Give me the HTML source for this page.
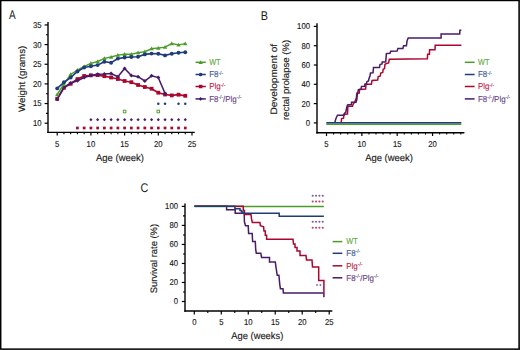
<!DOCTYPE html>
<html><head><meta charset="utf-8"><style>
html,body{margin:0;padding:0;background:#fff;}
#f{position:absolute;left:0;top:0;width:520px;height:350px;background:#fff;}
svg{position:absolute;left:0;top:0;}
text{font-family:"Liberation Sans",sans-serif;text-rendering:geometricPrecision;stroke-width:0.14px;paint-order:stroke;}
</style></head><body>
<div id="f"></div>
<svg width="520" height="350" viewBox="0 0 520 350" shape-rendering="auto">
<text transform="translate(8.9,18.6) scale(0.79,1)" font-size="12.6" fill="#1a1a1a" stroke="none">A</text>
<line x1="48.00" y1="22.00" x2="48.00" y2="133.00" stroke="#000" stroke-width="1.4"/>
<line x1="47.30" y1="132.45" x2="194.80" y2="132.45" stroke="#000" stroke-width="1.3"/>
<line x1="44.60" y1="123.20" x2="48.00" y2="123.20" stroke="#000" stroke-width="1.2"/>
<text x="41.60" y="126.10" font-size="8.5" text-anchor="end" fill="#1a1a1a" stroke="#1a1a1a" textLength="8.60" lengthAdjust="spacingAndGlyphs">10</text>
<line x1="44.60" y1="103.55" x2="48.00" y2="103.55" stroke="#000" stroke-width="1.2"/>
<text x="41.60" y="106.45" font-size="8.5" text-anchor="end" fill="#1a1a1a" stroke="#1a1a1a" textLength="8.60" lengthAdjust="spacingAndGlyphs">15</text>
<line x1="44.60" y1="83.90" x2="48.00" y2="83.90" stroke="#000" stroke-width="1.2"/>
<text x="41.60" y="86.80" font-size="8.5" text-anchor="end" fill="#1a1a1a" stroke="#1a1a1a" textLength="8.60" lengthAdjust="spacingAndGlyphs">20</text>
<line x1="44.60" y1="64.25" x2="48.00" y2="64.25" stroke="#000" stroke-width="1.2"/>
<text x="41.60" y="67.15" font-size="8.5" text-anchor="end" fill="#1a1a1a" stroke="#1a1a1a" textLength="8.60" lengthAdjust="spacingAndGlyphs">25</text>
<line x1="44.60" y1="44.60" x2="48.00" y2="44.60" stroke="#000" stroke-width="1.2"/>
<text x="41.60" y="47.50" font-size="8.5" text-anchor="end" fill="#1a1a1a" stroke="#1a1a1a" textLength="8.60" lengthAdjust="spacingAndGlyphs">30</text>
<line x1="44.60" y1="24.95" x2="48.00" y2="24.95" stroke="#000" stroke-width="1.2"/>
<text x="41.60" y="27.85" font-size="8.5" text-anchor="end" fill="#1a1a1a" stroke="#1a1a1a" textLength="8.60" lengthAdjust="spacingAndGlyphs">35</text>
<line x1="46.00" y1="113.38" x2="48.00" y2="113.38" stroke="#000" stroke-width="1.1"/>
<line x1="46.00" y1="93.72" x2="48.00" y2="93.72" stroke="#000" stroke-width="1.1"/>
<line x1="46.00" y1="74.08" x2="48.00" y2="74.08" stroke="#000" stroke-width="1.1"/>
<line x1="46.00" y1="54.42" x2="48.00" y2="54.42" stroke="#000" stroke-width="1.1"/>
<line x1="46.00" y1="34.78" x2="48.00" y2="34.78" stroke="#000" stroke-width="1.1"/>
<line x1="57.20" y1="132.00" x2="57.20" y2="135.60" stroke="#000" stroke-width="1.2"/>
<text x="57.20" y="146.60" font-size="8.5" text-anchor="middle" fill="#1a1a1a" stroke="#1a1a1a" textLength="4.30" lengthAdjust="spacingAndGlyphs">5</text>
<line x1="63.94" y1="132.00" x2="63.94" y2="134.20" stroke="#000" stroke-width="1.1"/>
<line x1="70.68" y1="132.00" x2="70.68" y2="134.20" stroke="#000" stroke-width="1.1"/>
<line x1="77.42" y1="132.00" x2="77.42" y2="134.20" stroke="#000" stroke-width="1.1"/>
<line x1="84.16" y1="132.00" x2="84.16" y2="134.20" stroke="#000" stroke-width="1.1"/>
<line x1="90.90" y1="132.00" x2="90.90" y2="135.60" stroke="#000" stroke-width="1.2"/>
<text x="90.90" y="146.60" font-size="8.5" text-anchor="middle" fill="#1a1a1a" stroke="#1a1a1a" textLength="8.60" lengthAdjust="spacingAndGlyphs">10</text>
<line x1="97.64" y1="132.00" x2="97.64" y2="134.20" stroke="#000" stroke-width="1.1"/>
<line x1="104.38" y1="132.00" x2="104.38" y2="134.20" stroke="#000" stroke-width="1.1"/>
<line x1="111.12" y1="132.00" x2="111.12" y2="134.20" stroke="#000" stroke-width="1.1"/>
<line x1="117.86" y1="132.00" x2="117.86" y2="134.20" stroke="#000" stroke-width="1.1"/>
<line x1="124.60" y1="132.00" x2="124.60" y2="135.60" stroke="#000" stroke-width="1.2"/>
<text x="124.60" y="146.60" font-size="8.5" text-anchor="middle" fill="#1a1a1a" stroke="#1a1a1a" textLength="8.60" lengthAdjust="spacingAndGlyphs">15</text>
<line x1="131.34" y1="132.00" x2="131.34" y2="134.20" stroke="#000" stroke-width="1.1"/>
<line x1="138.08" y1="132.00" x2="138.08" y2="134.20" stroke="#000" stroke-width="1.1"/>
<line x1="144.82" y1="132.00" x2="144.82" y2="134.20" stroke="#000" stroke-width="1.1"/>
<line x1="151.56" y1="132.00" x2="151.56" y2="134.20" stroke="#000" stroke-width="1.1"/>
<line x1="158.30" y1="132.00" x2="158.30" y2="135.60" stroke="#000" stroke-width="1.2"/>
<text x="158.30" y="146.60" font-size="8.5" text-anchor="middle" fill="#1a1a1a" stroke="#1a1a1a" textLength="8.60" lengthAdjust="spacingAndGlyphs">20</text>
<line x1="165.04" y1="132.00" x2="165.04" y2="134.20" stroke="#000" stroke-width="1.1"/>
<line x1="171.78" y1="132.00" x2="171.78" y2="134.20" stroke="#000" stroke-width="1.1"/>
<line x1="178.52" y1="132.00" x2="178.52" y2="134.20" stroke="#000" stroke-width="1.1"/>
<line x1="185.26" y1="132.00" x2="185.26" y2="134.20" stroke="#000" stroke-width="1.1"/>
<line x1="192.00" y1="132.00" x2="192.00" y2="135.60" stroke="#000" stroke-width="1.2"/>
<text x="192.00" y="146.60" font-size="8.5" text-anchor="middle" fill="#1a1a1a" stroke="#1a1a1a" textLength="8.60" lengthAdjust="spacingAndGlyphs">25</text>
<text x="96.00" y="160.60" font-size="9.8" text-anchor="start" fill="#1a1a1a" stroke="#1a1a1a" textLength="48.0" lengthAdjust="spacingAndGlyphs">Age (week)</text>
<text transform="translate(24.6,112) rotate(-90)" font-size="9.4" fill="#1a1a1a" stroke="#1a1a1a" textLength="66.3" lengthAdjust="spacingAndGlyphs">Weight (grams)</text>
<polyline points="57.20,99.00 63.94,87.80 70.68,83.80 77.42,79.10 84.16,76.00 90.90,75.30 97.64,75.10 104.38,76.20 111.12,77.50 117.86,79.00 124.60,81.00 131.34,82.20 138.08,85.00 144.82,87.00 151.56,88.70 158.30,92.70 165.04,94.50 171.78,95.40 178.52,94.70 185.26,95.80" fill="none" stroke="#aa072e" stroke-width="1.7" stroke-linejoin="miter" stroke-linecap="butt"/>
<rect x="55.30" y="97.10" width="3.80" height="3.80" fill="#aa072e"/>
<rect x="62.04" y="85.90" width="3.80" height="3.80" fill="#aa072e"/>
<rect x="68.78" y="81.90" width="3.80" height="3.80" fill="#aa072e"/>
<rect x="75.52" y="77.20" width="3.80" height="3.80" fill="#aa072e"/>
<rect x="82.26" y="74.10" width="3.80" height="3.80" fill="#aa072e"/>
<rect x="89.00" y="73.40" width="3.80" height="3.80" fill="#aa072e"/>
<rect x="95.74" y="73.20" width="3.80" height="3.80" fill="#aa072e"/>
<rect x="102.48" y="74.30" width="3.80" height="3.80" fill="#aa072e"/>
<rect x="109.22" y="75.60" width="3.80" height="3.80" fill="#aa072e"/>
<rect x="115.96" y="77.10" width="3.80" height="3.80" fill="#aa072e"/>
<rect x="122.70" y="79.10" width="3.80" height="3.80" fill="#aa072e"/>
<rect x="129.44" y="80.30" width="3.80" height="3.80" fill="#aa072e"/>
<rect x="136.18" y="83.10" width="3.80" height="3.80" fill="#aa072e"/>
<rect x="142.92" y="85.10" width="3.80" height="3.80" fill="#aa072e"/>
<rect x="149.66" y="86.80" width="3.80" height="3.80" fill="#aa072e"/>
<rect x="156.40" y="90.80" width="3.80" height="3.80" fill="#aa072e"/>
<rect x="163.14" y="92.60" width="3.80" height="3.80" fill="#aa072e"/>
<rect x="169.88" y="93.50" width="3.80" height="3.80" fill="#aa072e"/>
<rect x="176.62" y="92.80" width="3.80" height="3.80" fill="#aa072e"/>
<rect x="183.36" y="93.90" width="3.80" height="3.80" fill="#aa072e"/>
<polyline points="57.20,99.00 63.94,87.40 70.68,83.00 77.42,80.70 84.16,77.50 90.90,75.50 97.64,74.20 104.38,74.00 111.12,73.50 117.86,76.70 124.60,68.50 131.34,75.60 138.08,76.70 144.82,81.00 151.56,75.80 158.30,77.60 165.04,93.40" fill="none" stroke="#481b69" stroke-width="1.5" stroke-linejoin="miter" stroke-linecap="butt"/>
<path d="M57.20,97.00 L59.20,99.00 L57.20,101.00 L55.20,99.00Z" fill="#481b69"/>
<path d="M63.94,85.40 L65.94,87.40 L63.94,89.40 L61.94,87.40Z" fill="#481b69"/>
<path d="M70.68,81.00 L72.68,83.00 L70.68,85.00 L68.68,83.00Z" fill="#481b69"/>
<path d="M77.42,78.70 L79.42,80.70 L77.42,82.70 L75.42,80.70Z" fill="#481b69"/>
<path d="M84.16,75.50 L86.16,77.50 L84.16,79.50 L82.16,77.50Z" fill="#481b69"/>
<path d="M90.90,73.50 L92.90,75.50 L90.90,77.50 L88.90,75.50Z" fill="#481b69"/>
<path d="M97.64,72.20 L99.64,74.20 L97.64,76.20 L95.64,74.20Z" fill="#481b69"/>
<path d="M104.38,72.00 L106.38,74.00 L104.38,76.00 L102.38,74.00Z" fill="#481b69"/>
<path d="M111.12,71.50 L113.12,73.50 L111.12,75.50 L109.12,73.50Z" fill="#481b69"/>
<path d="M117.86,74.70 L119.86,76.70 L117.86,78.70 L115.86,76.70Z" fill="#481b69"/>
<path d="M124.60,66.50 L126.60,68.50 L124.60,70.50 L122.60,68.50Z" fill="#481b69"/>
<path d="M131.34,73.60 L133.34,75.60 L131.34,77.60 L129.34,75.60Z" fill="#481b69"/>
<path d="M138.08,74.70 L140.08,76.70 L138.08,78.70 L136.08,76.70Z" fill="#481b69"/>
<path d="M144.82,79.00 L146.82,81.00 L144.82,83.00 L142.82,81.00Z" fill="#481b69"/>
<path d="M151.56,73.80 L153.56,75.80 L151.56,77.80 L149.56,75.80Z" fill="#481b69"/>
<path d="M158.30,75.60 L160.30,77.60 L158.30,79.60 L156.30,77.60Z" fill="#481b69"/>
<path d="M165.04,91.40 L167.04,93.40 L165.04,95.40 L163.04,93.40Z" fill="#481b69"/>
<polyline points="57.20,94.50 63.94,84.00 70.68,74.40 77.42,70.10 84.16,66.50 90.90,63.40 97.64,61.50 104.38,58.30 111.12,57.00 117.86,55.10 124.60,54.20 131.34,54.20 138.08,52.60 144.82,51.70 151.56,48.60 158.30,48.00 165.04,47.10 171.78,43.60 178.52,44.90 185.26,43.60" fill="none" stroke="#4c9c2a" stroke-width="1.4" stroke-linejoin="miter" stroke-linecap="butt"/>
<path d="M57.20,92.40 L59.41,96.18 L55.00,96.18Z" fill="#4c9c2a"/>
<path d="M63.94,81.90 L66.15,85.68 L61.74,85.68Z" fill="#4c9c2a"/>
<path d="M70.68,72.30 L72.89,76.08 L68.48,76.08Z" fill="#4c9c2a"/>
<path d="M77.42,68.00 L79.62,71.78 L75.22,71.78Z" fill="#4c9c2a"/>
<path d="M84.16,64.40 L86.36,68.18 L81.95,68.18Z" fill="#4c9c2a"/>
<path d="M90.90,61.30 L93.11,65.08 L88.70,65.08Z" fill="#4c9c2a"/>
<path d="M97.64,59.40 L99.84,63.18 L95.44,63.18Z" fill="#4c9c2a"/>
<path d="M104.38,56.20 L106.58,59.98 L102.17,59.98Z" fill="#4c9c2a"/>
<path d="M111.12,54.90 L113.33,58.68 L108.92,58.68Z" fill="#4c9c2a"/>
<path d="M117.86,53.00 L120.07,56.78 L115.66,56.78Z" fill="#4c9c2a"/>
<path d="M124.60,52.10 L126.81,55.88 L122.40,55.88Z" fill="#4c9c2a"/>
<path d="M131.34,52.10 L133.55,55.88 L129.13,55.88Z" fill="#4c9c2a"/>
<path d="M138.08,50.50 L140.28,54.28 L135.87,54.28Z" fill="#4c9c2a"/>
<path d="M144.82,49.60 L147.03,53.38 L142.61,53.38Z" fill="#4c9c2a"/>
<path d="M151.56,46.50 L153.77,50.28 L149.35,50.28Z" fill="#4c9c2a"/>
<path d="M158.30,45.90 L160.51,49.68 L156.09,49.68Z" fill="#4c9c2a"/>
<path d="M165.04,45.00 L167.25,48.78 L162.84,48.78Z" fill="#4c9c2a"/>
<path d="M171.78,41.50 L173.99,45.28 L169.57,45.28Z" fill="#4c9c2a"/>
<path d="M178.52,42.80 L180.73,46.58 L176.31,46.58Z" fill="#4c9c2a"/>
<path d="M185.26,41.50 L187.47,45.28 L183.05,45.28Z" fill="#4c9c2a"/>
<polyline points="57.20,88.40 63.94,82.30 70.68,77.50 77.42,71.50 84.16,67.50 90.90,66.30 97.64,65.10 104.38,61.70 111.12,62.70 117.86,58.60 124.60,57.50 131.34,57.00 138.08,56.70 144.82,54.40 151.56,53.60 158.30,53.80 165.04,55.40 171.78,53.80 178.52,52.70 185.26,52.30" fill="none" stroke="#1f3c7a" stroke-width="1.6" stroke-linejoin="miter" stroke-linecap="butt"/>
<circle cx="57.20" cy="88.40" r="1.95" fill="#1f3c7a"/>
<circle cx="63.94" cy="82.30" r="1.95" fill="#1f3c7a"/>
<circle cx="70.68" cy="77.50" r="1.95" fill="#1f3c7a"/>
<circle cx="77.42" cy="71.50" r="1.95" fill="#1f3c7a"/>
<circle cx="84.16" cy="67.50" r="1.95" fill="#1f3c7a"/>
<circle cx="90.90" cy="66.30" r="1.95" fill="#1f3c7a"/>
<circle cx="97.64" cy="65.10" r="1.95" fill="#1f3c7a"/>
<circle cx="104.38" cy="61.70" r="1.95" fill="#1f3c7a"/>
<circle cx="111.12" cy="62.70" r="1.95" fill="#1f3c7a"/>
<circle cx="117.86" cy="58.60" r="1.95" fill="#1f3c7a"/>
<circle cx="124.60" cy="57.50" r="1.95" fill="#1f3c7a"/>
<circle cx="131.34" cy="57.00" r="1.95" fill="#1f3c7a"/>
<circle cx="138.08" cy="56.70" r="1.95" fill="#1f3c7a"/>
<circle cx="144.82" cy="54.40" r="1.95" fill="#1f3c7a"/>
<circle cx="151.56" cy="53.60" r="1.95" fill="#1f3c7a"/>
<circle cx="158.30" cy="53.80" r="1.95" fill="#1f3c7a"/>
<circle cx="165.04" cy="55.40" r="1.95" fill="#1f3c7a"/>
<circle cx="171.78" cy="53.80" r="1.95" fill="#1f3c7a"/>
<circle cx="178.52" cy="52.70" r="1.95" fill="#1f3c7a"/>
<circle cx="185.26" cy="52.30" r="1.95" fill="#1f3c7a"/>
<circle cx="158.30" cy="103.85" r="1.25" fill="#1f3c7a"/>
<circle cx="165.04" cy="103.85" r="1.25" fill="#1f3c7a"/>
<circle cx="178.52" cy="103.85" r="1.25" fill="#1f3c7a"/>
<circle cx="185.26" cy="103.85" r="1.25" fill="#1f3c7a"/>
<rect x="123.30" y="110.20" width="2.60" height="2.60" fill="none" stroke="#4c9c2a" stroke-width="0.9"/>
<rect x="157.00" y="110.20" width="2.60" height="2.60" fill="none" stroke="#4c9c2a" stroke-width="0.9"/>
<path d="M90.90,118.05 L92.50,119.65 L90.90,121.25 L89.30,119.65Z" fill="#481b69"/>
<path d="M97.64,118.05 L99.24,119.65 L97.64,121.25 L96.04,119.65Z" fill="#481b69"/>
<path d="M104.38,118.05 L105.98,119.65 L104.38,121.25 L102.78,119.65Z" fill="#481b69"/>
<path d="M111.12,118.05 L112.72,119.65 L111.12,121.25 L109.52,119.65Z" fill="#481b69"/>
<path d="M117.86,118.05 L119.46,119.65 L117.86,121.25 L116.26,119.65Z" fill="#481b69"/>
<path d="M124.60,118.05 L126.20,119.65 L124.60,121.25 L123.00,119.65Z" fill="#481b69"/>
<path d="M131.34,118.05 L132.94,119.65 L131.34,121.25 L129.74,119.65Z" fill="#481b69"/>
<path d="M138.08,118.05 L139.68,119.65 L138.08,121.25 L136.48,119.65Z" fill="#481b69"/>
<path d="M144.82,118.05 L146.42,119.65 L144.82,121.25 L143.22,119.65Z" fill="#481b69"/>
<path d="M151.56,118.05 L153.16,119.65 L151.56,121.25 L149.96,119.65Z" fill="#481b69"/>
<path d="M158.30,118.05 L159.90,119.65 L158.30,121.25 L156.70,119.65Z" fill="#481b69"/>
<path d="M165.04,118.05 L166.64,119.65 L165.04,121.25 L163.44,119.65Z" fill="#481b69"/>
<path d="M171.78,118.05 L173.38,119.65 L171.78,121.25 L170.18,119.65Z" fill="#481b69"/>
<path d="M178.52,118.05 L180.12,119.65 L178.52,121.25 L176.92,119.65Z" fill="#481b69"/>
<path d="M185.26,118.05 L186.86,119.65 L185.26,121.25 L183.66,119.65Z" fill="#481b69"/>
<rect x="76.07" y="126.65" width="2.70" height="2.70" fill="#aa072e"/>
<rect x="82.81" y="126.65" width="2.70" height="2.70" fill="#aa072e"/>
<rect x="89.55" y="126.65" width="2.70" height="2.70" fill="#aa072e"/>
<rect x="96.29" y="126.65" width="2.70" height="2.70" fill="#aa072e"/>
<rect x="103.03" y="126.65" width="2.70" height="2.70" fill="#aa072e"/>
<rect x="109.77" y="126.65" width="2.70" height="2.70" fill="#aa072e"/>
<rect x="116.51" y="126.65" width="2.70" height="2.70" fill="#aa072e"/>
<rect x="123.25" y="126.65" width="2.70" height="2.70" fill="#aa072e"/>
<rect x="129.99" y="126.65" width="2.70" height="2.70" fill="#aa072e"/>
<rect x="136.73" y="126.65" width="2.70" height="2.70" fill="#aa072e"/>
<rect x="143.47" y="126.65" width="2.70" height="2.70" fill="#aa072e"/>
<rect x="150.21" y="126.65" width="2.70" height="2.70" fill="#aa072e"/>
<rect x="156.95" y="126.65" width="2.70" height="2.70" fill="#aa072e"/>
<rect x="163.69" y="126.65" width="2.70" height="2.70" fill="#aa072e"/>
<rect x="170.43" y="126.65" width="2.70" height="2.70" fill="#aa072e"/>
<rect x="177.17" y="126.65" width="2.70" height="2.70" fill="#aa072e"/>
<rect x="183.91" y="126.65" width="2.70" height="2.70" fill="#aa072e"/>
<line x1="195.50" y1="62.30" x2="205.80" y2="62.30" stroke="#4c9c2a" stroke-width="1.5"/>
<path d="M200.65,60.30 L202.75,63.90 L198.55,63.90Z" fill="#4c9c2a"/>
<text transform="translate(209.20,65.00) scale(0.85,1)" font-size="8.6" fill="#62ab3f" stroke="#62ab3f">WT</text>
<line x1="195.50" y1="74.50" x2="205.80" y2="74.50" stroke="#1f3c7a" stroke-width="1.5"/>
<circle cx="200.65" cy="74.50" r="1.85" fill="#1f3c7a"/>
<text transform="translate(209.20,77.20) scale(0.92,1)" font-size="8.6" fill="#425d99" stroke="#425d99">F8<tspan font-size="5.4" dy="-2.7">-/-</tspan></text>
<line x1="195.50" y1="86.50" x2="205.80" y2="86.50" stroke="#aa072e" stroke-width="1.5"/>
<rect x="198.90" y="84.75" width="3.50" height="3.50" fill="#aa072e"/>
<text transform="translate(209.20,89.20) scale(0.92,1)" font-size="8.6" fill="#bf244b" stroke="#bf244b">Plg<tspan font-size="5.4" dy="-2.7">-/-</tspan></text>
<line x1="195.50" y1="98.90" x2="205.80" y2="98.90" stroke="#481b69" stroke-width="1.5"/>
<path d="M200.65,97.00 L202.55,98.90 L200.65,100.80 L198.75,98.90Z" fill="#481b69"/>
<text transform="translate(209.20,101.60) scale(0.92,1)" font-size="8.6" fill="#694789" stroke="#694789">F8<tspan font-size="5.4" dy="-2.7">-/-</tspan><tspan dy="2.7">/Plg</tspan><tspan font-size="5.4" dy="-2.7">-/-</tspan></text>
<text transform="translate(260.8,19.9) scale(0.86,1)" font-size="12.6" fill="#1a1a1a" stroke="none">B</text>
<line x1="317.00" y1="23.20" x2="317.00" y2="133.40" stroke="#000" stroke-width="1.4"/>
<line x1="316.30" y1="132.75" x2="464.40" y2="132.75" stroke="#000" stroke-width="1.3"/>
<line x1="313.80" y1="122.90" x2="317.00" y2="122.90" stroke="#000" stroke-width="1.2"/>
<text x="310.00" y="125.80" font-size="8.5" text-anchor="end" fill="#1a1a1a" stroke="#1a1a1a" textLength="4.30" lengthAdjust="spacingAndGlyphs">0</text>
<line x1="313.80" y1="103.60" x2="317.00" y2="103.60" stroke="#000" stroke-width="1.2"/>
<text x="310.00" y="106.50" font-size="8.5" text-anchor="end" fill="#1a1a1a" stroke="#1a1a1a" textLength="8.60" lengthAdjust="spacingAndGlyphs">20</text>
<line x1="313.80" y1="84.30" x2="317.00" y2="84.30" stroke="#000" stroke-width="1.2"/>
<text x="310.00" y="87.20" font-size="8.5" text-anchor="end" fill="#1a1a1a" stroke="#1a1a1a" textLength="8.60" lengthAdjust="spacingAndGlyphs">40</text>
<line x1="313.80" y1="65.00" x2="317.00" y2="65.00" stroke="#000" stroke-width="1.2"/>
<text x="310.00" y="67.90" font-size="8.5" text-anchor="end" fill="#1a1a1a" stroke="#1a1a1a" textLength="8.60" lengthAdjust="spacingAndGlyphs">60</text>
<line x1="313.80" y1="45.70" x2="317.00" y2="45.70" stroke="#000" stroke-width="1.2"/>
<text x="310.00" y="48.60" font-size="8.5" text-anchor="end" fill="#1a1a1a" stroke="#1a1a1a" textLength="8.60" lengthAdjust="spacingAndGlyphs">80</text>
<line x1="313.80" y1="26.40" x2="317.00" y2="26.40" stroke="#000" stroke-width="1.2"/>
<text x="310.00" y="29.30" font-size="8.5" text-anchor="end" fill="#1a1a1a" stroke="#1a1a1a" textLength="12.90" lengthAdjust="spacingAndGlyphs">100</text>
<line x1="326.50" y1="132.70" x2="326.50" y2="136.00" stroke="#000" stroke-width="1.2"/>
<text x="326.50" y="146.70" font-size="8.5" text-anchor="middle" fill="#1a1a1a" stroke="#1a1a1a" textLength="4.30" lengthAdjust="spacingAndGlyphs">5</text>
<line x1="333.57" y1="132.70" x2="333.57" y2="134.60" stroke="#000" stroke-width="1.1"/>
<line x1="340.64" y1="132.70" x2="340.64" y2="134.60" stroke="#000" stroke-width="1.1"/>
<line x1="347.71" y1="132.70" x2="347.71" y2="134.60" stroke="#000" stroke-width="1.1"/>
<line x1="354.78" y1="132.70" x2="354.78" y2="134.60" stroke="#000" stroke-width="1.1"/>
<line x1="361.85" y1="132.70" x2="361.85" y2="136.00" stroke="#000" stroke-width="1.2"/>
<text x="361.85" y="146.70" font-size="8.5" text-anchor="middle" fill="#1a1a1a" stroke="#1a1a1a" textLength="8.60" lengthAdjust="spacingAndGlyphs">10</text>
<line x1="368.92" y1="132.70" x2="368.92" y2="134.60" stroke="#000" stroke-width="1.1"/>
<line x1="375.99" y1="132.70" x2="375.99" y2="134.60" stroke="#000" stroke-width="1.1"/>
<line x1="383.06" y1="132.70" x2="383.06" y2="134.60" stroke="#000" stroke-width="1.1"/>
<line x1="390.13" y1="132.70" x2="390.13" y2="134.60" stroke="#000" stroke-width="1.1"/>
<line x1="397.20" y1="132.70" x2="397.20" y2="136.00" stroke="#000" stroke-width="1.2"/>
<text x="397.20" y="146.70" font-size="8.5" text-anchor="middle" fill="#1a1a1a" stroke="#1a1a1a" textLength="8.60" lengthAdjust="spacingAndGlyphs">15</text>
<line x1="404.27" y1="132.70" x2="404.27" y2="134.60" stroke="#000" stroke-width="1.1"/>
<line x1="411.34" y1="132.70" x2="411.34" y2="134.60" stroke="#000" stroke-width="1.1"/>
<line x1="418.41" y1="132.70" x2="418.41" y2="134.60" stroke="#000" stroke-width="1.1"/>
<line x1="425.48" y1="132.70" x2="425.48" y2="134.60" stroke="#000" stroke-width="1.1"/>
<line x1="432.55" y1="132.70" x2="432.55" y2="136.00" stroke="#000" stroke-width="1.2"/>
<text x="432.55" y="146.70" font-size="8.5" text-anchor="middle" fill="#1a1a1a" stroke="#1a1a1a" textLength="8.60" lengthAdjust="spacingAndGlyphs">20</text>
<line x1="439.62" y1="132.70" x2="439.62" y2="134.60" stroke="#000" stroke-width="1.1"/>
<line x1="446.69" y1="132.70" x2="446.69" y2="134.60" stroke="#000" stroke-width="1.1"/>
<line x1="453.76" y1="132.70" x2="453.76" y2="134.60" stroke="#000" stroke-width="1.1"/>
<line x1="460.83" y1="132.70" x2="460.83" y2="134.60" stroke="#000" stroke-width="1.1"/>
<text x="365.20" y="160.60" font-size="9.8" text-anchor="start" fill="#1a1a1a" stroke="#1a1a1a" textLength="47.8" lengthAdjust="spacingAndGlyphs">Age (week)</text>
<text transform="translate(277.0,114.6) rotate(-90)" font-size="9.4" fill="#1a1a1a" stroke="#1a1a1a" textLength="70.7" lengthAdjust="spacingAndGlyphs">Development of</text>
<text transform="translate(289.0,120.1) rotate(-90)" font-size="9.4" fill="#1a1a1a" stroke="#1a1a1a" textLength="80.2" lengthAdjust="spacingAndGlyphs">rectal prolapse (%)</text>
<polyline points="341.20,122.30 341.60,118.60 343.50,118.20 343.80,116.00 344.20,114.30 347.50,114.10 347.90,106.20 352.40,106.20 353.20,104.20 354.80,101.80 356.40,97.80 356.80,93.20 359.20,93.00 359.60,89.40 365.60,89.00 366.00,84.30 371.40,84.30 372.00,80.50 377.70,80.00 378.20,76.50 380.30,76.00 380.70,73.00 382.70,72.50 383.20,69.30 384.50,68.60 385.00,64.30 386.40,63.60 388.60,63.00 389.30,59.20 427.40,58.80 427.60,54.30 429.40,54.30 429.60,49.70 435.00,49.70 435.20,45.30 461.40,45.30" fill="none" stroke="#aa072e" stroke-width="1.5" stroke-linejoin="miter" stroke-linecap="butt"/>
<polyline points="334.90,122.30 335.70,119.30 336.40,117.50 337.50,115.20 343.80,115.20 344.60,113.00 345.70,112.60 346.40,108.90 346.80,107.10 347.50,105.00 351.40,104.60 351.60,102.20 356.00,102.20 356.80,99.80 357.20,95.40 358.40,89.60 361.00,89.20 361.50,86.40 364.50,86.20 365.00,84.00 366.50,83.80 367.00,81.50 368.50,81.00 369.00,78.50 370.00,76.00 370.50,73.00 373.00,72.80 373.50,67.50 379.50,67.50 380.00,64.50 382.00,64.00 382.20,61.90 385.70,61.90 386.40,53.60 390.00,53.30 390.70,51.30 397.10,51.10 397.90,48.50 402.90,48.50 403.60,45.70 406.40,45.70 407.10,40.70 408.20,37.90 441.10,37.90 441.10,34.00 459.70,34.00 459.90,30.30 461.30,30.30" fill="none" stroke="#481b69" stroke-width="1.5" stroke-linejoin="miter" stroke-linecap="butt"/>
<line x1="326.30" y1="124.20" x2="461.30" y2="124.20" stroke="#4c9c2a" stroke-width="1.6"/>
<line x1="326.30" y1="122.70" x2="461.30" y2="122.70" stroke="#1f3c7a" stroke-width="1.6"/>
<line x1="464.80" y1="62.30" x2="474.60" y2="62.30" stroke="#4c9c2a" stroke-width="1.5"/>
<text transform="translate(478.00,65.00) scale(0.85,1)" font-size="8.6" fill="#62ab3f" stroke="#62ab3f">WT</text>
<line x1="464.80" y1="74.50" x2="474.60" y2="74.50" stroke="#1f3c7a" stroke-width="1.5"/>
<text transform="translate(478.00,77.20) scale(0.92,1)" font-size="8.6" fill="#425d99" stroke="#425d99">F8<tspan font-size="5.4" dy="-2.7">-/-</tspan></text>
<line x1="464.80" y1="86.50" x2="474.60" y2="86.50" stroke="#aa072e" stroke-width="1.5"/>
<text transform="translate(478.00,89.20) scale(0.92,1)" font-size="8.6" fill="#bf244b" stroke="#bf244b">Plg<tspan font-size="5.4" dy="-2.7">-/-</tspan></text>
<line x1="464.80" y1="98.90" x2="474.60" y2="98.90" stroke="#481b69" stroke-width="1.5"/>
<text transform="translate(478.00,101.60) scale(0.92,1)" font-size="8.6" fill="#694789" stroke="#694789">F8<tspan font-size="5.4" dy="-2.7">-/-</tspan><tspan dy="2.7">/Plg</tspan><tspan font-size="5.4" dy="-2.7">-/-</tspan></text>
<text transform="translate(140.5,191.8) scale(0.86,1)" font-size="12.6" fill="#1a1a1a" stroke="none">C</text>
<line x1="185.00" y1="203.40" x2="185.00" y2="311.70" stroke="#000" stroke-width="1.4"/>
<line x1="184.30" y1="311.00" x2="332.30" y2="311.00" stroke="#000" stroke-width="1.3"/>
<line x1="181.80" y1="301.50" x2="185.00" y2="301.50" stroke="#000" stroke-width="1.2"/>
<text x="178.00" y="304.40" font-size="8.5" text-anchor="end" fill="#1a1a1a" stroke="#1a1a1a" textLength="4.30" lengthAdjust="spacingAndGlyphs">0</text>
<line x1="181.80" y1="282.48" x2="185.00" y2="282.48" stroke="#000" stroke-width="1.2"/>
<text x="178.00" y="285.38" font-size="8.5" text-anchor="end" fill="#1a1a1a" stroke="#1a1a1a" textLength="8.60" lengthAdjust="spacingAndGlyphs">20</text>
<line x1="181.80" y1="263.46" x2="185.00" y2="263.46" stroke="#000" stroke-width="1.2"/>
<text x="178.00" y="266.36" font-size="8.5" text-anchor="end" fill="#1a1a1a" stroke="#1a1a1a" textLength="8.60" lengthAdjust="spacingAndGlyphs">40</text>
<line x1="181.80" y1="244.44" x2="185.00" y2="244.44" stroke="#000" stroke-width="1.2"/>
<text x="178.00" y="247.34" font-size="8.5" text-anchor="end" fill="#1a1a1a" stroke="#1a1a1a" textLength="8.60" lengthAdjust="spacingAndGlyphs">60</text>
<line x1="181.80" y1="225.42" x2="185.00" y2="225.42" stroke="#000" stroke-width="1.2"/>
<text x="178.00" y="228.32" font-size="8.5" text-anchor="end" fill="#1a1a1a" stroke="#1a1a1a" textLength="8.60" lengthAdjust="spacingAndGlyphs">80</text>
<line x1="181.80" y1="206.40" x2="185.00" y2="206.40" stroke="#000" stroke-width="1.2"/>
<text x="178.00" y="209.30" font-size="8.5" text-anchor="end" fill="#1a1a1a" stroke="#1a1a1a" textLength="12.90" lengthAdjust="spacingAndGlyphs">100</text>
<line x1="183.00" y1="291.99" x2="185.00" y2="291.99" stroke="#000" stroke-width="1.1"/>
<line x1="183.00" y1="272.97" x2="185.00" y2="272.97" stroke="#000" stroke-width="1.1"/>
<line x1="183.00" y1="253.95" x2="185.00" y2="253.95" stroke="#000" stroke-width="1.1"/>
<line x1="183.00" y1="234.93" x2="185.00" y2="234.93" stroke="#000" stroke-width="1.1"/>
<line x1="183.00" y1="215.91" x2="185.00" y2="215.91" stroke="#000" stroke-width="1.1"/>
<line x1="194.30" y1="311.00" x2="194.30" y2="314.50" stroke="#000" stroke-width="1.2"/>
<text x="194.30" y="325.00" font-size="8.5" text-anchor="middle" fill="#1a1a1a" stroke="#1a1a1a" textLength="4.30" lengthAdjust="spacingAndGlyphs">0</text>
<line x1="207.79" y1="311.00" x2="207.79" y2="313.00" stroke="#000" stroke-width="1.1"/>
<line x1="221.28" y1="311.00" x2="221.28" y2="314.50" stroke="#000" stroke-width="1.2"/>
<text x="221.28" y="325.00" font-size="8.5" text-anchor="middle" fill="#1a1a1a" stroke="#1a1a1a" textLength="4.30" lengthAdjust="spacingAndGlyphs">5</text>
<line x1="234.77" y1="311.00" x2="234.77" y2="313.00" stroke="#000" stroke-width="1.1"/>
<line x1="248.26" y1="311.00" x2="248.26" y2="314.50" stroke="#000" stroke-width="1.2"/>
<text x="248.26" y="325.00" font-size="8.5" text-anchor="middle" fill="#1a1a1a" stroke="#1a1a1a" textLength="8.60" lengthAdjust="spacingAndGlyphs">10</text>
<line x1="261.75" y1="311.00" x2="261.75" y2="313.00" stroke="#000" stroke-width="1.1"/>
<line x1="275.24" y1="311.00" x2="275.24" y2="314.50" stroke="#000" stroke-width="1.2"/>
<text x="275.24" y="325.00" font-size="8.5" text-anchor="middle" fill="#1a1a1a" stroke="#1a1a1a" textLength="8.60" lengthAdjust="spacingAndGlyphs">15</text>
<line x1="288.73" y1="311.00" x2="288.73" y2="313.00" stroke="#000" stroke-width="1.1"/>
<line x1="302.22" y1="311.00" x2="302.22" y2="314.50" stroke="#000" stroke-width="1.2"/>
<text x="302.22" y="325.00" font-size="8.5" text-anchor="middle" fill="#1a1a1a" stroke="#1a1a1a" textLength="8.60" lengthAdjust="spacingAndGlyphs">20</text>
<line x1="315.71" y1="311.00" x2="315.71" y2="313.00" stroke="#000" stroke-width="1.1"/>
<line x1="329.20" y1="311.00" x2="329.20" y2="314.50" stroke="#000" stroke-width="1.2"/>
<text x="329.20" y="325.00" font-size="8.5" text-anchor="middle" fill="#1a1a1a" stroke="#1a1a1a" textLength="8.60" lengthAdjust="spacingAndGlyphs">25</text>
<text x="231.30" y="339.10" font-size="9.8" text-anchor="start" fill="#1a1a1a" stroke="#1a1a1a" textLength="52" lengthAdjust="spacingAndGlyphs">Age (weeks)</text>
<text transform="translate(157.4,293.3) rotate(-90)" font-size="9.4" fill="#1a1a1a" stroke="#1a1a1a" textLength="69.4" lengthAdjust="spacingAndGlyphs">Survival rate (%)</text>
<polyline points="194.50,206.30 226.60,206.30 226.60,209.80 235.20,209.80 235.20,213.30 244.20,213.30 244.40,221.80 245.50,225.70 248.20,225.70 248.60,233.60 252.20,233.60 252.60,241.40 255.30,241.40 255.70,249.30 256.30,253.20 260.80,253.20 261.60,257.50 269.50,257.60 269.50,262.10 275.30,262.10 275.90,266.60 276.60,271.10 277.20,275.30 278.90,275.30 279.80,284.60 280.40,288.70 283.00,288.70 283.40,292.90 323.90,292.90 323.90,297.20" fill="none" stroke="#481b69" stroke-width="1.5" stroke-linejoin="miter" stroke-linecap="butt"/>
<line x1="194.50" y1="206.40" x2="323.90" y2="206.40" stroke="#4c9c2a" stroke-width="1.5"/>
<polyline points="194.50,206.30 243.30,206.30 243.30,210.60 244.50,210.60 244.50,214.40 251.00,214.40 251.50,218.60 252.30,222.40 259.90,222.40 260.40,225.70 263.60,226.70 264.00,231.00 265.30,231.00 265.30,235.30 266.60,235.30 266.60,239.30 293.00,239.30 293.50,244.00 295.00,244.00 295.00,247.60 297.00,247.60 297.00,251.00 300.00,251.00 300.00,255.60 306.00,255.60 306.50,260.00 312.00,260.00 312.50,267.00 318.70,267.00 318.70,280.40 323.90,280.40 323.90,292.60" fill="none" stroke="#aa072e" stroke-width="1.5" stroke-linejoin="miter" stroke-linecap="butt"/>
<polyline points="194.50,206.30 234.90,206.30 234.90,208.70 240.00,208.70 240.00,210.50 241.50,210.50 241.50,212.00 243.00,212.00 243.00,213.30 279.20,213.30 279.20,216.20 323.90,216.20" fill="none" stroke="#1f3c7a" stroke-width="1.5" stroke-linejoin="miter" stroke-linecap="butt"/>
<circle cx="312.70" cy="195.70" r="1.05" fill="#7e5a9c"/>
<circle cx="316.05" cy="195.70" r="1.05" fill="#7e5a9c"/>
<circle cx="319.40" cy="195.70" r="1.05" fill="#7e5a9c"/>
<circle cx="322.75" cy="195.70" r="1.05" fill="#7e5a9c"/>
<circle cx="312.70" cy="201.50" r="1.05" fill="#c0405f"/>
<circle cx="316.05" cy="201.50" r="1.05" fill="#c0405f"/>
<circle cx="319.40" cy="201.50" r="1.05" fill="#c0405f"/>
<circle cx="322.75" cy="201.50" r="1.05" fill="#c0405f"/>
<circle cx="312.70" cy="221.70" r="1.05" fill="#7e5a9c"/>
<circle cx="316.05" cy="221.70" r="1.05" fill="#7e5a9c"/>
<circle cx="319.40" cy="221.70" r="1.05" fill="#7e5a9c"/>
<circle cx="322.75" cy="221.70" r="1.05" fill="#7e5a9c"/>
<circle cx="312.70" cy="227.70" r="1.05" fill="#c0405f"/>
<circle cx="316.05" cy="227.70" r="1.05" fill="#c0405f"/>
<circle cx="319.40" cy="227.70" r="1.05" fill="#c0405f"/>
<circle cx="322.75" cy="227.70" r="1.05" fill="#c0405f"/>
<circle cx="317.00" cy="285.00" r="0.95" fill="#8a6aa8"/>
<circle cx="320.40" cy="285.00" r="0.95" fill="#8a6aa8"/>
<line x1="332.60" y1="241.60" x2="342.30" y2="241.60" stroke="#4c9c2a" stroke-width="1.5"/>
<text transform="translate(346.30,244.30) scale(0.85,1)" font-size="8.6" fill="#62ab3f" stroke="#62ab3f">WT</text>
<line x1="332.60" y1="253.30" x2="342.30" y2="253.30" stroke="#1f3c7a" stroke-width="1.5"/>
<text transform="translate(346.30,256.00) scale(0.92,1)" font-size="8.6" fill="#425d99" stroke="#425d99">F8<tspan font-size="5.4" dy="-2.7">-/-</tspan></text>
<line x1="332.60" y1="265.80" x2="342.30" y2="265.80" stroke="#aa072e" stroke-width="1.5"/>
<text transform="translate(346.30,268.50) scale(0.92,1)" font-size="8.6" fill="#bf244b" stroke="#bf244b">Plg<tspan font-size="5.4" dy="-2.7">-/-</tspan></text>
<line x1="332.60" y1="277.80" x2="342.30" y2="277.80" stroke="#481b69" stroke-width="1.5"/>
<text transform="translate(346.30,280.50) scale(0.92,1)" font-size="8.6" fill="#694789" stroke="#694789">F8<tspan font-size="5.4" dy="-2.7">-/-</tspan><tspan dy="2.7">/Plg</tspan><tspan font-size="5.4" dy="-2.7">-/-</tspan></text>
<rect x="0" y="0" width="520" height="1" fill="#000"/>
<rect x="0" y="1" width="520" height="1" fill="#000" opacity="0.22"/>
<rect x="0" y="0" width="1" height="350" fill="#000"/>
<rect x="1" y="0" width="1" height="350" fill="#000" opacity="0.45"/>
<rect x="518" y="0" width="1" height="350" fill="#000" opacity="0.68"/>
<rect x="519" y="0" width="1" height="350" fill="#1e1e1e"/>
<rect x="0" y="348" width="520" height="1" fill="#000" opacity="0.62"/>
<rect x="0" y="349" width="520" height="1" fill="#1e1e1e"/>
</svg>
</body></html>
